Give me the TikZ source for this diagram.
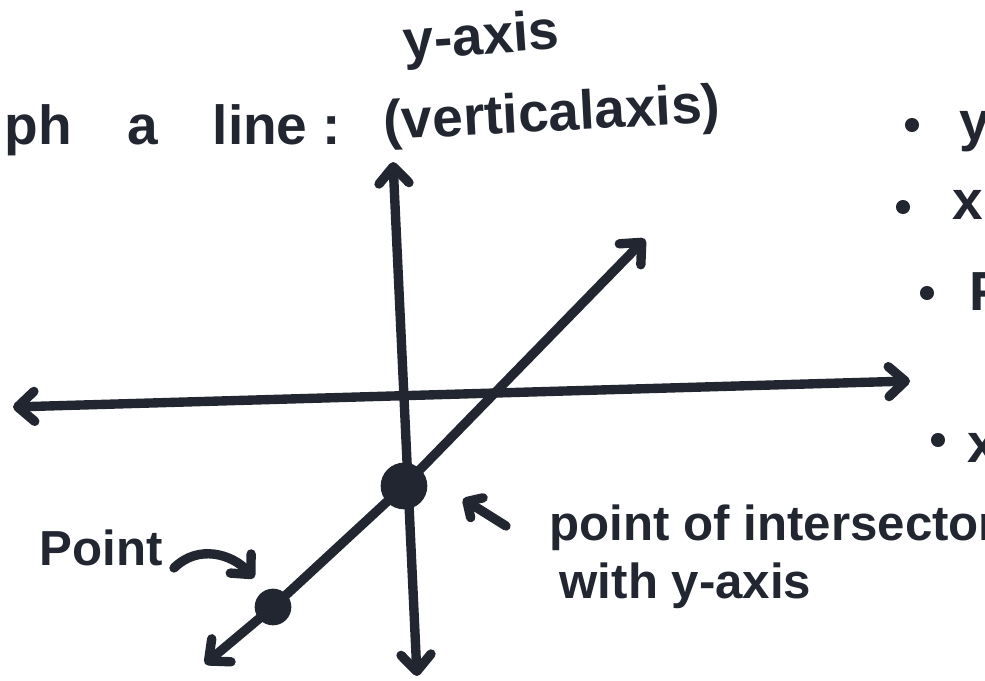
\documentclass[tikz,border=0pt]{standalone}
\usepackage{fontspec}
\setmainfont{Liberation Sans}
\usepackage{tikz}
\usetikzlibrary{arrows.meta}
\definecolor{Ink}{RGB}{34,38,48}

\begin{document}
\begin{tikzpicture}[x=0.03cm,y=-0.03cm,line width=8pt,draw=Ink,line cap=round,
  >={Straight Barb[length=5mm,width=9mm,round]},
  hand/.style={font=\fontsize{47}{56}\selectfont\bfseries,text=Ink,inner sep=0pt,anchor=base west},
  handsm/.style={hand,font=\fontsize{42}{50}\selectfont\bfseries},
  bigdot/.style={circle,fill=Ink,inner sep=0pt,minimum size=1.4cm},
  smalldot/.style={circle,fill=Ink,inner sep=0pt,minimum size=1.1cm},
  small/.style={->,>={Straight Barb[length=3.5mm,width=7mm,round]}}]
\useasboundingbox (0,0) rectangle (985,681);
\clip (0,0) rectangle (985,681);
% heading
\node[hand] (ttl) at (0,145) {ph\quad a\quad line :};
\node[hand,rotate=3] (vert) at (380,140) {(verticalaxis)};
\node[hand,rotate=4] (yaxlbl) at (400,60) {y-axis};
% axes
\coordinate (ytop) at (393,162);
\coordinate (ybot) at (417,676);
\coordinate (xl) at (13,407);
\coordinate (xr) at (910,381);
\draw[<->] (ybot) -- (ytop);
\draw[<->] (xl) -- (xr);
% the line and its two points
\node[bigdot] (yint) at (404,486) {};
\node[smalldot] (pt) at (273,607) {};
\coordinate (ll) at (205,664);
\coordinate (lr) at (645,239);
\draw[<->] (ll) -- (pt.center) -- (yint.center) -- (lr);
% labels below
\node[handsm] (ptlbl) at (35,565) {Point};
\coordinate (pa) at (174,568);
\coordinate (pb) at (254,578);
\draw[small,>={Straight Barb[length=4.5mm,width=8.5mm,round]}] (pa) .. controls (198,544) and (232,554) .. (pb);
\coordinate (sa) at (506,526);
\coordinate (sb) at (463,499);
\draw[small] (sa) -- (sb);
\node[handsm] (intlbl) at (545,540) {point of intersecton};
\node[handsm] (withlbl) at (555,598) {with y-axis};
% list on the right
\foreach \l/\bx/\by/\lx/\ly [count=\i] in {y/912/125/955/141,x/903/207/948/220,P/927/293/965/310,x/938/440/963/462}{
  \fill[Ink] (\bx,\by) circle (6pt);
  \node[hand] (item\i) at (\lx,\ly) {\l};
}
\end{tikzpicture}
\end{document}
